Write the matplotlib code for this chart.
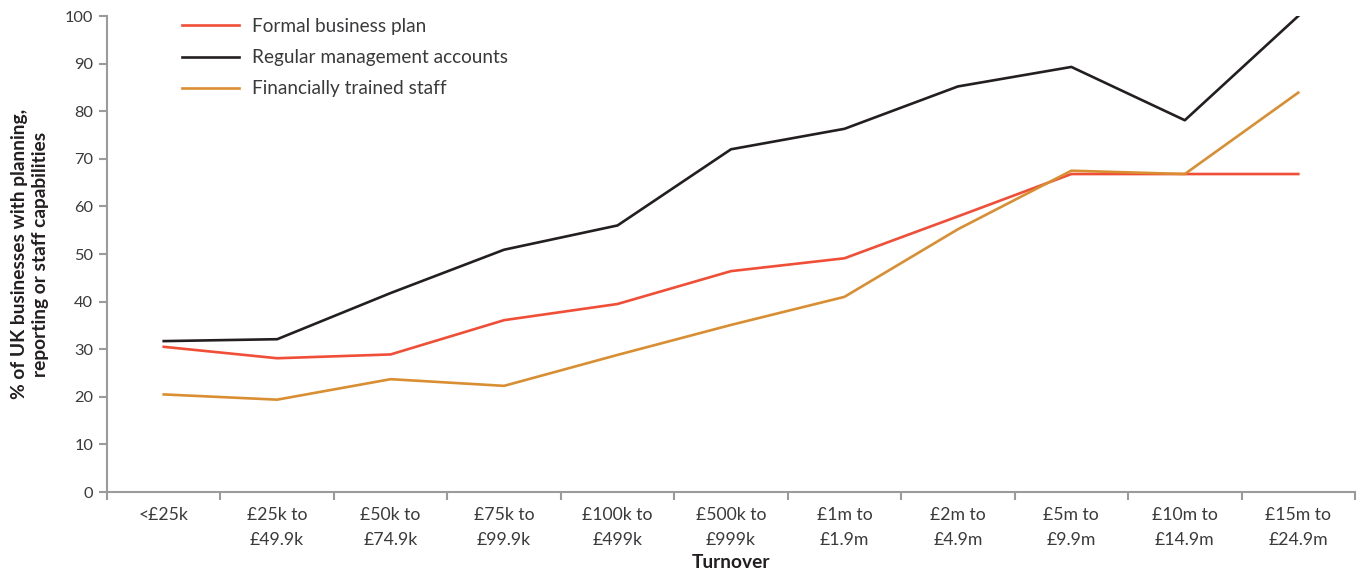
import matplotlib.pyplot as plt
import numpy as np

plt.rcParams['font.family'] = ['Lato', 'DejaVu Sans']

# Turnover bands and share of businesses (%) for each capability
turnover_bands = ['<£25k', '£25k to\n£49.9k', '£50k to\n£74.9k', '£75k to\n£99.9k',
                  '£100k to\n£499k', '£500k to\n£999k', '£1m to\n£1.9m', '£2m to\n£4.9m',
                  '£5m to\n£9.9m', '£10m to\n£14.9m', '£15m to\n£24.9m']
business_plan = [30.5, 28.1, 28.9, 36.1, 39.5, 46.4, 49.1, 57.9, 66.8, 66.8, 66.8]
management_accounts = [31.7, 32.1, 41.8, 50.9, 56.0, 72.0, 76.3, 85.2, 89.3, 78.1, 100.0]
trained_staff = [20.5, 19.4, 23.7, 22.3, 28.8, 35.1, 41.0, 55.2, 67.5, 66.8, 83.9]

AXIS_GREY = '#9b9b9e'
TEXT_GREY = '#3a3a3c'


def plot_capabilities() -> None:
    fig = plt.figure(figsize=(13.65, 5.74), dpi=100)
    ax = fig.add_axes([107 / 1365, 82 / 574, 1248 / 1365, 476 / 574])

    x = np.arange(len(turnover_bands))
    ax.plot(x, business_plan, color='#f04e37', lw=1.9, label='Formal business plan')
    ax.plot(x, management_accounts, color='#231f20', lw=1.9, label='Regular management accounts')
    ax.plot(x, trained_staff, color='#d98e32', lw=1.9, label='Financially trained staff')

    ax.set_xlim(-0.5, len(turnover_bands) - 0.5)
    ax.set_ylim(0, 100)
    ax.set_yticks(range(0, 101, 10))

    # category labels sit between the boundary ticks
    ax.set_xticks(x)
    ax.set_xticklabels(turnover_bands, fontsize=12.7, color=TEXT_GREY, linespacing=1.7)
    ax.tick_params(axis='x', length=0, pad=11)
    ax.set_xticks(np.arange(len(turnover_bands) + 1) - 0.5, minor=True)
    ax.tick_params(axis='x', which='minor', length=6, width=1.5, color=AXIS_GREY)
    ax.tick_params(axis='y', length=6, width=1.5, color=AXIS_GREY, labelsize=11.8,
                   labelcolor=TEXT_GREY, pad=4)

    for side in ['top', 'right']:
        ax.spines[side].set_visible(False)
    for side in ['left', 'bottom']:
        ax.spines[side].set_color(AXIS_GREY)
        ax.spines[side].set_linewidth(1.5)

    ax.set_xlabel('Turnover', fontsize=13.8, fontweight='bold', color='#231f20', labelpad=4)
    ax.set_ylabel('% of UK businesses with planning,\nreporting or staff capabilities',
                  fontsize=13.8, fontweight='bold', color='#231f20', labelpad=11,
                  linespacing=1.3)

    ax.legend(loc='upper left', bbox_to_anchor=(0.046, 1.032), frameon=False,
              fontsize=13.7, handlelength=3.0, handletextpad=0.7, labelspacing=0.75,
              labelcolor=TEXT_GREY)

    fig.savefig('out.png', dpi=100)


if __name__ == '__main__':
    plot_capabilities()
